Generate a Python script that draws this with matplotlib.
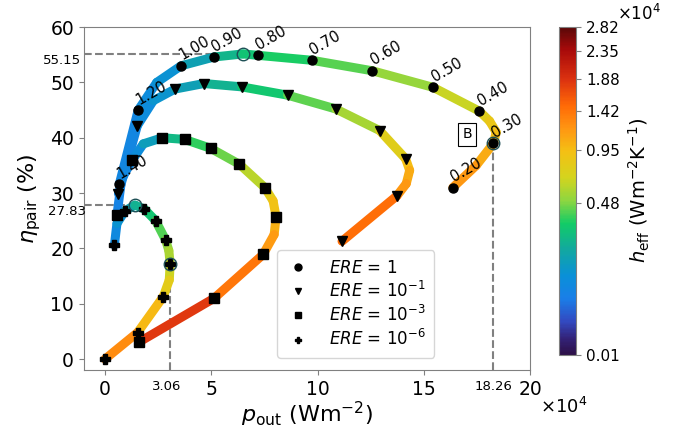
import matplotlib
matplotlib.use("Agg")
import matplotlib.pyplot as plt
import numpy as np
from matplotlib.collections import LineCollection
from matplotlib.colors import LinearSegmentedColormap, PowerNorm
from matplotlib.cm import ScalarMappable
from matplotlib.lines import Line2D

# bandgap labels shown along the ERE = 1 curve
eg_labels = ["1.40", "1.20", "1.00", "0.90", "0.80", "0.70", "0.60", "0.50", "0.40", "0.30", "0.20"]

# ERE = 1 (p_out in 1e4 W/m2, eta in %, h_eff in 1e4 W/m2/K)
p_e0 = [0.67, 1.56, 2.43, 3.57, 5.13, 6.49, 7.18, 9.73, 12.57, 15.43, 17.60, 18.08, 18.39, 18.26, 17.45, 16.35]
eta_e0 = [31.6, 45.0, 50.0, 53.0, 54.6, 55.15, 54.9, 54.0, 52.1, 49.1, 44.8, 43.0, 41.0, 39.0, 35.0, 31.0]
h_e0 = [0.069, 0.085, 0.11, 0.13, 0.22, 0.29, 0.32, 0.38, 0.47, 0.57, 0.74, 0.80, 0.90, 1.0, 1.12, 1.24]
mk_e0 = [0, 1, 3, 4, 6, 7, 8, 9, 10, 13, 15]

# ERE = 1e-1
p_e1 = [0.63, 1.52, 2.27, 3.29, 4.65, 6.42, 8.58, 10.85, 12.91, 14.13, 14.32, 14.16, 13.72, 11.14]
eta_e1 = [29.9, 42.2, 46.7, 48.8, 49.8, 49.2, 47.7, 45.2, 41.3, 36.2, 34.1, 31.7, 29.5, 21.3]
h_e1 = [0.069, 0.085, 0.11, 0.145, 0.195, 0.29, 0.36, 0.50, 0.62, 0.90, 1.0, 1.12, 1.24, 1.68]
mk_e1 = [0, 1, 3, 4, 5, 6, 7, 8, 9, 12, 13]

# ERE = 1e-3
p_e3 = [0.56, 0.78, 1.27, 1.80, 2.69, 3.74, 4.96, 6.32, 7.51, 7.90, 8.04, 7.95, 7.43, 5.13, 1.61]
eta_e3 = [26.0, 32.5, 35.9, 38.9, 40.0, 39.7, 38.1, 35.2, 31.0, 28.6, 25.7, 22.5, 18.9, 11.0, 3.1]
h_e3 = [0.065, 0.075, 0.085, 0.12, 0.20, 0.34, 0.41, 0.50, 0.72, 0.84, 0.97, 1.10, 1.24, 1.58, 2.1]
mk_e3 = [0, 2, 4, 5, 6, 7, 8, 10, 12, 13, 14]

# ERE = 1e-6
p_e6 = [0.44, 0.56, 0.94, 1.41, 1.85, 2.38, 2.85, 3.00, 3.06, 3.02, 2.74, 1.53, 0.0]
eta_e6 = [20.6, 24.5, 26.8, 27.83, 27.1, 25.0, 21.5, 19.6, 17.2, 14.3, 11.3, 4.8, 0.0]
h_e6 = [0.076, 0.10, 0.145, 0.21, 0.27, 0.36, 0.47, 0.53, 0.60, 0.72, 0.85, 1.1, 1.40]
mk_e6 = [0, 2, 4, 5, 6, 8, 10, 11, 12]

# highlighted optimum points (open circles) and guide values
opt_p = [6.49, 18.26, 1.41, 3.06]
opt_eta = [55.15, 39.0, 27.83, 17.2]

cbar_ticks = [0.01, 0.48, 0.95, 1.42, 1.88, 2.35, 2.82]

cmap = LinearSegmentedColormap.from_list("heff", [
    (0.00, "#2d1048"), (0.05, "#33237a"), (0.10, "#3349c0"), (0.17, "#1a7ee8"),
    (0.24, "#0a90d8"), (0.32, "#12a8a0"), (0.40, "#12cc66"), (0.47, "#8ed640"),
    (0.54, "#d4d41e"), (0.62, "#f4c014"), (0.69, "#ff9612"), (0.76, "#ff6a06"),
    (0.84, "#dc3210"), (0.93, "#a80a0a"), (1.00, "#5a0808"),
])
norm = PowerNorm(gamma=0.43, vmin=0.01, vmax=2.82)

fig = plt.figure(figsize=(6.81, 4.37), dpi=100)
ax = fig.add_axes([0.123, 0.153, 0.656, 0.785])
cax = fig.add_axes([0.821, 0.188, 0.025, 0.751])

curves = [
    (p_e0, eta_e0, h_e0, mk_e0, "o", 6.5),
    (p_e1, eta_e1, h_e1, mk_e1, "v", 6.5),
    (p_e3, eta_e3, h_e3, mk_e3, "s", 6.5),
    (p_e6, eta_e6, h_e6, mk_e6, "P", 7),
]
for p, eta, h, mk, m, ms in curves:
    pts = np.column_stack([p, eta])
    segs = np.stack([pts[:-1], pts[1:]], axis=1)
    hseg = 0.5 * (np.array(h[:-1]) + np.array(h[1:]))
    lc = LineCollection(segs, colors=cmap(norm(hseg)), linewidths=6.5, capstyle="round", zorder=2)
    ax.add_collection(lc)
    ax.plot(np.array(p)[mk], np.array(eta)[mk], ls="", marker=m, color="k", markersize=ms, zorder=4)

ax.plot(opt_p, opt_eta, ls="", marker="o", mfc="none", mec="#1d4f55", mew=1.0, markersize=9, zorder=5)

# labels of the ERE = 1 markers
for i, lab in zip(mk_e0, eg_labels):
    ax.annotate(lab, (p_e0[i], eta_e0[i]), xytext=(2, 2), textcoords="offset points",
                rotation=30, rotation_mode="anchor", ha="left", va="bottom", fontsize=10.5, zorder=6)

# dashed guides
gc = "#808080"
ax.plot([-1, opt_p[0]], [opt_eta[0], opt_eta[0]], ls="--", color=gc, lw=1.5, zorder=1)
ax.plot([-1, opt_p[2]], [opt_eta[2], opt_eta[2]], ls="--", color=gc, lw=1.5, zorder=1)
ax.plot([opt_p[3], opt_p[3]], [-2, opt_eta[3]], ls="--", color=gc, lw=1.5, zorder=1)
ax.plot([opt_p[1], opt_p[1]], [-2, opt_eta[1]], ls="--", color=gc, lw=1.5, zorder=1)

ax.text(-2.04, opt_eta[0], "55.15", ha="center", va="top", fontsize=9.5, clip_on=False)
ax.text(-1.78, opt_eta[2], "27.83", ha="center", va="top", fontsize=9.5, clip_on=False)
ax.text(opt_p[3] - 0.15, -5.0, "3.06", ha="center", va="center", fontsize=9.5, clip_on=False)
ax.text(opt_p[1], -5.0, "18.26", ha="center", va="center", fontsize=9.5, clip_on=False)

ax.text(17.02, 40.6, "B", ha="center", va="center", fontsize=10,
        bbox=dict(boxstyle="square,pad=0.3", fc="white", ec="k", lw=0.8))

ax.set_xlim(-1, 20)
ax.set_ylim(-2, 60)
ax.set_xticks([0, 5, 10, 15, 20])
ax.set_yticks([0, 10, 20, 30, 40, 50, 60])
ax.tick_params(labelsize=13.5, color=gc)
for s in ax.spines.values():
    s.set_color(gc)

ax.set_xlabel(r"$p_{\rm out}$ (Wm$^{-2}$)", fontsize=16)
ax.set_ylabel(r"$\eta_{\rm pair}$ (%)", fontsize=16)
ax.xaxis.set_label_coords(0.5, -0.087)
ax.yaxis.set_label_coords(-0.092, 0.5)
fig.text(540 / 681, 1 - 407 / 437, r"$\times10^4$", ha="left", va="center", fontsize=13)

handles = [Line2D([], [], ls="", marker=m, color="k", markersize=5) for m in ["o", "v", "s", "P"]]
labels = [r"$ERE$ = 1", r"$ERE$ = 10$^{-1}$", r"$ERE$ = 10$^{-3}$", r"$ERE$ = 10$^{-6}$"]
ax.legend(handles, labels, loc="lower left", bbox_to_anchor=(0.415, 0.012), fontsize=12,
          handlelength=1.5, handletextpad=1.1, borderpad=0.5, labelspacing=0.25)

cb = fig.colorbar(ScalarMappable(norm=norm, cmap=cmap), cax=cax)
cb.set_ticks(cbar_ticks)
cb.set_ticklabels([f"{t:.2f}" for t in cbar_ticks])
cb.ax.tick_params(labelsize=11, color=gc)
cb.outline.set_edgecolor(gc)
cb.set_label(r"$h_{\rm eff}$ (Wm$^{-2}$K$^{-1}$)", fontsize=14, labelpad=5)
fig.text(617 / 681, 1 - 14 / 437, r"$\times10^4$", ha="left", va="center", fontsize=12)

fig.savefig("out.png", dpi=100)
